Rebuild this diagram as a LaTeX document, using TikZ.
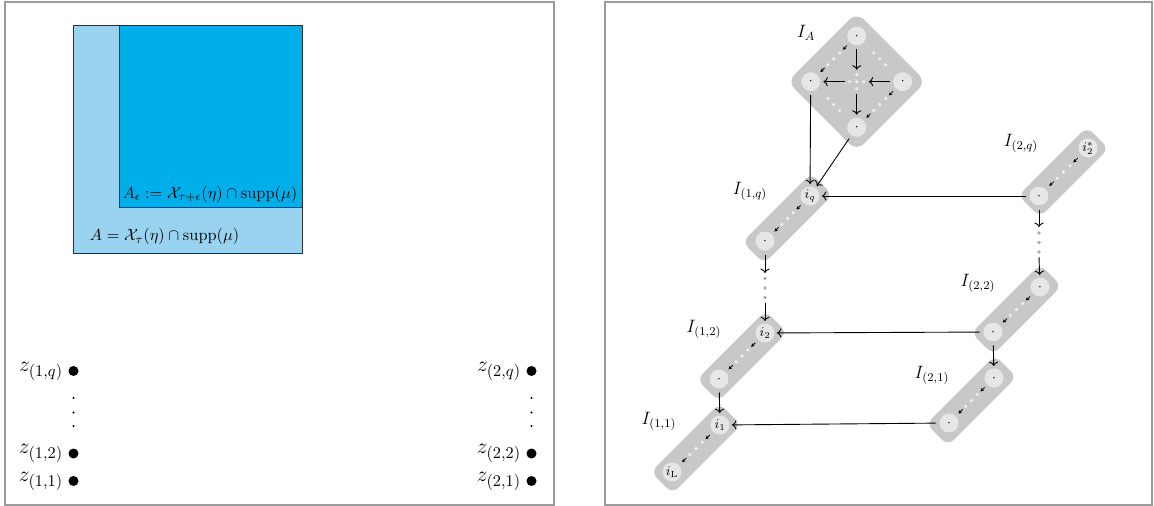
\documentclass[tikz,border=0pt]{standalone}
\usetikzlibrary{calc,arrows.meta}
\definecolor{pillgray}{RGB}{200,200,200}
\definecolor{vtxgray}{RGB}{230,230,230}
\definecolor{dotwhite}{RGB}{238,238,238}
\definecolor{dotgray}{RGB}{170,170,170}
\definecolor{framegray}{RGB}{155,155,155}
\definecolor{lightblue}{RGB}{153,211,240}
\definecolor{deepblue}{RGB}{0,174,234}
\definecolor{boxline}{RGB}{45,45,45}
\newcommand\mkpill[5]{%
  \node[pillbg] (#1) at ($(#2)!0.5!(#3)$) {};
  \node[vtx] (#1t) at (#2) {#4};
  \node[vtx] (#1b) at (#3) {#5};
  \draw[tinyarrow] ($(#1t)!0.21!(#1b)$) -- ($(#1t)!0.30!(#1b)$);
  \foreach \f/\k in {0.37/1,0.5/2,0.63/3} {\node[wdot] (#1d\k) at ($(#1t)!\f!(#1b)$) {};}
  \draw[tinyarrow] ($(#1t)!0.70!(#1b)$) -- ($(#1t)!0.79!(#1b)$);
}
\begin{document}
\begin{tikzpicture}[x=0.67pt,y=-0.67pt,
  frame/.style={draw=framegray, line width=0.8pt},
  bigdot/.style={circle, fill=black, minimum size=6.7pt, inner sep=0pt},
  smalldot/.style={circle, fill=black, minimum size=1.5pt, inner sep=0pt},
  pillbg/.style={rectangle, rounded corners=5.4pt, fill=pillgray, minimum width=65pt, minimum height=20.5pt, inner sep=0pt, rotate=45},
  diam/.style={rectangle, rounded corners=6.7pt, fill=pillgray, minimum width=65.7pt, minimum height=65.7pt, inner sep=0pt, rotate=45},
  vtx/.style={circle, fill=vtxgray, minimum size=12.7pt, inner sep=0pt, font=\small},
  conn/.style={->, line width=0.6pt, shorten >=1.5pt, shorten <=2.5pt},
  inarrow/.style={->, line width=0.6pt, shorten >=2pt, shorten <=2pt},
  tinyarrow/.style={-{Stealth[length=2.2pt,width=2.4pt]}, line width=0.5pt},
  wdot/.style={circle, fill=dotwhite, minimum size=2.4pt, inner sep=0pt},
  gdot/.style={circle, fill=dotgray, minimum size=2.6pt, inner sep=0pt},
  lab/.style={font=\large},
  zlab/.style={font=\fontsize{15}{18}\selectfont},
  setlab/.style={font=\fontsize{10.8}{13}\selectfont}
]
\useasboundingbox (0,0) rectangle (1154,506);
% ---------- left panel ----------
\draw[frame] (5,2) rectangle (554,505);
\path[draw=boxline, fill=lightblue, line width=0.6pt] (73,25) rectangle (302,253);
\path[draw=boxline, fill=deepblue, line width=0.6pt] (119,25) rectangle (302,207);
\coordinate (inSE) at (302,207);
\node[setlab, anchor=south east, inner sep=3pt] (Aeps) at (inSE) {$A_\epsilon := \mathcal{X}_{\tau+\epsilon}(\eta)\cap\mathrm{supp}(\mu)$};
\node[setlab] (Aset) at (164.6,236.7) {$A = \mathcal{X}_{\tau}(\eta)\cap\mathrm{supp}(\mu)$};

\node[bigdot, label={[zlab]left:$z_{(1,q)}$}] (z1q) at (73.5,371) {};
\node[bigdot, label={[zlab]left:$z_{(1,2)}$}] (z12) at (73.5,453.5) {};
\node[bigdot, label={[zlab]left:$z_{(1,1)}$}] (z11) at (73.5,481) {};
\node[bigdot, label={[zlab]left:$z_{(2,q)}$}] (z2q) at (531.5,371) {};
\node[bigdot, label={[zlab]left:$z_{(2,2)}$}] (z22) at (531.5,453.5) {};
\node[bigdot, label={[zlab]left:$z_{(2,1)}$}] (z21) at (531.5,481) {};
\foreach \y/\k in {398/1,412.5/2,426/3} {
  \node[smalldot] (lv\k) at (73.5,\y) {};
  \node[smalldot] (rv\k) at (531.5,\y) {};
}
% ---------- right panel ----------
\draw[frame] (605,2) rectangle (1152,505);
% I_A diamond
\node[diam] (IA) at (856.7,81.7) {};
\node[vtx] (At) at (856.7,36) {$\cdot$};
\node[vtx] (Al) at (810.7,81.7) {$\cdot$};
\node[vtx] (Ar) at (902.7,81.7) {$\cdot$};
\node[vtx] (Ab) at (856.7,127.4) {$\cdot$};
\foreach \n/\p in {C/{856.7,81.7}, N/{856.7,74.7}, S/{856.7,88.7}, W/{849.7,81.7}, E/{863.7,81.7}}
  {\node[wdot] (c\n) at (\p) {};}
\draw[tinyarrow] ($(At)!0.21!(Al)$) -- ($(At)!0.30!(Al)$);
\draw[tinyarrow] ($(At)!0.70!(Al)$) -- ($(At)!0.79!(Al)$);
\draw[tinyarrow] ($(Ar)!0.21!(Ab)$) -- ($(Ar)!0.30!(Ab)$);
\draw[tinyarrow] ($(Ar)!0.70!(Ab)$) -- ($(Ar)!0.79!(Ab)$);
\foreach \f/\k in {0.37/1,0.5/2,0.63/3} {
  \node[wdot] (ul\k) at ($(At)!\f!(Al)$) {};
  \node[wdot] (lr\k) at ($(Ar)!\f!(Ab)$) {};
  \node[wdot] (ur\k) at ($(At)!\f!(Ar)$) {};
  \node[wdot] (ll\k) at ($(Al)!\f!(Ab)$) {};
}
\draw[inarrow] (At) -- (cN);
\draw[inarrow] (Ar) -- (cE);
\draw[inarrow] (cW) -- (Al);
\draw[inarrow] (cS) -- (Ab);
% pills
\mkpill{Pq}{810,196}{765,241}{$i_q$}{$\cdot$}
\mkpill{Ptwo}{765,333}{719,379}{$i_2$}{$\cdot$}
\mkpill{Pone}{720,425}{672,472}{$i_1$}{$i_{\mathrm{L}}$}
\mkpill{Qq}{1088,148}{1039,196}{$i_2^*$}{$\cdot$}
\mkpill{Qtwo}{1040,287}{993,332}{$\cdot$}{$\cdot$}
\mkpill{Qone}{994,378}{949,423}{$\cdot$}{$\cdot$}
% labels
\node[lab] (lIA) at (806,33) {$I_A$};
\node[lab] (l1q) at (750,191) {$I_{(1,q)}$};
\node[lab] (l12) at (704,329) {$I_{(1,2)}$};
\node[lab] (l11) at (659,421) {$I_{(1,1)}$};
\node[lab] (l2q) at (1021,143) {$I_{(2,q)}$};
\node[lab] (l22) at (978,283) {$I_{(2,2)}$};
\node[lab] (l21) at (932,375) {$I_{(2,1)}$};
% connectors
\draw[conn] (Al) -- (Pqt);
\draw[conn] (Ab) -- (Pqt);
\draw[conn] (Qqb) -- (Pqt);
\coordinate (La) at (765,273);
\coordinate (Lb) at (765,303);
\draw[conn, shorten >=0pt] (Pqb) -- (La);
\draw[conn, shorten <=0pt] (Lb) -- (Ptwot);
\foreach \y/\k in {278.5/1,288/2,297.5/3} {\node[gdot] (lg\k) at (765,\y) {};}
\coordinate (Ra) at (1039,227);
\coordinate (Rb) at (1039,257);
\draw[conn, shorten >=0pt] (Qqb) -- (Ra);
\draw[conn, shorten <=0pt] (Rb) -- (Qtwot);
\foreach \y/\k in {233/1,242.5/2,252/3} {\node[gdot] (rg\k) at (1039,\y) {};}
\draw[conn] (Qtwob) -- (Ptwot);
\draw[conn] (Ptwob) -- (Ponet);
\draw[conn] (Qtwob) -- (Qonet);
\draw[conn] (Qoneb) -- (Ponet);
\end{tikzpicture}
\end{document}
